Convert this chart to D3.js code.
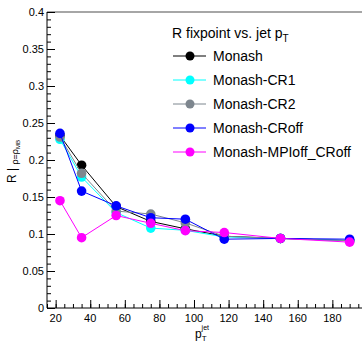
<!DOCTYPE html>
<meta charset="utf-8">
<style>
  body { margin: 0; background: #fff; }
  text { font-family: "Liberation Sans", Arial, sans-serif; }
</style>
<body>
<script src="https://d3js.org/d3.v7.min.js"></script>
<script>
  // jet pT bin centres
  var ptBins = [22.5, 35, 55, 75, 95, 117.5, 150, 190];

  // R fixpoint per tune
  var monash        = [0.233, 0.193, 0.137, 0.117, 0.107, 0.097, 0.094, 0.091];
  var monashCR1     = [0.228, 0.177, 0.129, 0.108, 0.105, 0.096, 0.094, 0.091];
  var monashCR2     = [0.231, 0.182, 0.131, 0.127, 0.115, 0.097, 0.094, 0.091];
  var monashCRoff   = [0.236, 0.158, 0.138, 0.122, 0.120, 0.093, 0.094, 0.093];
  var monashMPIoff  = [0.145, 0.095, 0.125, 0.1145, 0.1045, 0.102, 0.094, 0.089];

  var seriesNames  = ["Monash", "Monash-CR1", "Monash-CR2", "Monash-CRoff", "Monash-MPIoff_CRoff"];
  var seriesColors = ["#000000", "#00ffff", "#7d868e", "#0000ff", "#ff00ff"];
  var seriesValues = [monash, monashCR1, monashCR2, monashCRoff, monashMPIoff];

  var xTicks = [20, 40, 60, 80, 100, 120, 140, 160, 180];
  var yTicks = [0, 0.05, 0.1, 0.15, 0.2, 0.25, 0.3, 0.35, 0.4];

  var W = 362, H = 348;
  var plotLeft = 47, plotTop = 12, plotBottom = 308;

  var svg = d3.select("body").append("svg")
    .attr("width", W).attr("height", H);

  var x = d3.scaleLinear().domain([15, 200]).range([plotLeft, plotLeft + 185 * 1.7294]);
  var y = d3.scaleLinear().domain([0, 0.4]).range([plotBottom, plotTop]);

  // frame top
  svg.append("line")
    .attr("x1", plotLeft).attr("x2", W).attr("y1", plotTop).attr("y2", plotTop)
    .attr("stroke", "#888").attr("stroke-width", 1.5);

  // X axis (ticks pointing up)
  var xMinor = d3.range(15, 200, 5);
  var gx = svg.append("g").attr("transform", "translate(0," + plotBottom + ")");
  gx.call(d3.axisTop(x).tickValues(xMinor).tickSize(4).tickFormat(""));
  gx.append("g").call(d3.axisTop(x).tickValues(xTicks).tickSize(8).tickFormat(""));
  gx.selectAll(".domain").remove();
  gx.selectAll("line").attr("stroke", "#000");
  svg.append("line").attr("x1", plotLeft).attr("x2", W).attr("y1", plotBottom).attr("y2", plotBottom).attr("stroke", "#000");
  svg.selectAll(".xlab").data(xTicks).enter().append("text")
    .attr("x", function (d) { return x(d); })
    .attr("y", plotBottom + 14)
    .attr("text-anchor", "middle")
    .style("font-size", "11px")
    .text(function (d) { return d; });

  // Y axis (ticks pointing right)
  var yMinor = d3.range(0, 0.4001, 0.01);
  var gy = svg.append("g").attr("transform", "translate(" + plotLeft + ",0)");
  gy.call(d3.axisRight(y).tickValues(yMinor).tickSize(4).tickFormat(""));
  gy.append("g").call(d3.axisRight(y).tickValues(yTicks).tickSize(8).tickFormat(""));
  gy.selectAll(".domain").remove();
  gy.selectAll("line").attr("stroke", "#000");
  svg.append("line").attr("x1", plotLeft).attr("x2", plotLeft).attr("y1", plotTop).attr("y2", plotBottom).attr("stroke", "#000");
  svg.selectAll(".ylab").data(yTicks).enter().append("text")
    .attr("x", plotLeft - 3)
    .attr("y", function (d) { return y(d) + 4; })
    .attr("text-anchor", "end")
    .style("font-size", "11px")
    .text(function (d) { return d; });

  // axis titles
  var xt = svg.append("text").attr("x", 195).attr("y", 338).style("font-size", "12px");
  xt.append("tspan").text("p");
  xt.append("tspan").attr("dy", 3).style("font-size", "8px").text("T");
  xt.append("tspan").attr("dx", -5).attr("dy", -11).style("font-size", "7px").text("jet");

  var yt = svg.append("text").attr("transform", "translate(16,183) rotate(-90)").style("font-size", "12px");
  yt.append("tspan").text("R | ");
  yt.append("tspan").attr("dy", 2).style("font-size", "9px").text("ρ=ρ");
  yt.append("tspan").attr("dy", 2).style("font-size", "6px").text("MB");

  // series
  var line = d3.line()
    .x(function (d, i) { return x(ptBins[i]); })
    .y(function (d) { return y(d); });

  seriesValues.forEach(function (vals, k) {
    svg.append("path")
      .attr("d", line(vals))
      .attr("fill", "none")
      .attr("stroke", seriesColors[k])
      .attr("stroke-width", 1);
    svg.selectAll(".pt" + k).data(vals).enter().append("circle")
      .attr("cx", function (d, i) { return x(ptBins[i]); })
      .attr("cy", function (d) { return y(d); })
      .attr("r", 4.8)
      .attr("fill", seriesColors[k]);
  });

  // legend
  var lg = svg.append("g");
  var lt = lg.append("text").attr("x", 172).attr("y", 38).style("font-size", "14px");
  lt.append("tspan").text("R fixpoint vs. jet p");
  lt.append("tspan").attr("dy", 4).style("font-size", "10px").text("T");

  seriesNames.forEach(function (name, k) {
    var ly = 56 + k * 24;
    lg.append("line").attr("x1", 173).attr("x2", 206).attr("y1", ly).attr("y2", ly)
      .attr("stroke", seriesColors[k]).attr("stroke-width", 1);
    lg.append("circle").attr("cx", 190).attr("cy", ly).attr("r", 4.5).attr("fill", seriesColors[k]);
    lg.append("text").attr("x", 213).attr("y", ly + 5).style("font-size", "14px").text(name);
  });
</script>
</body>
